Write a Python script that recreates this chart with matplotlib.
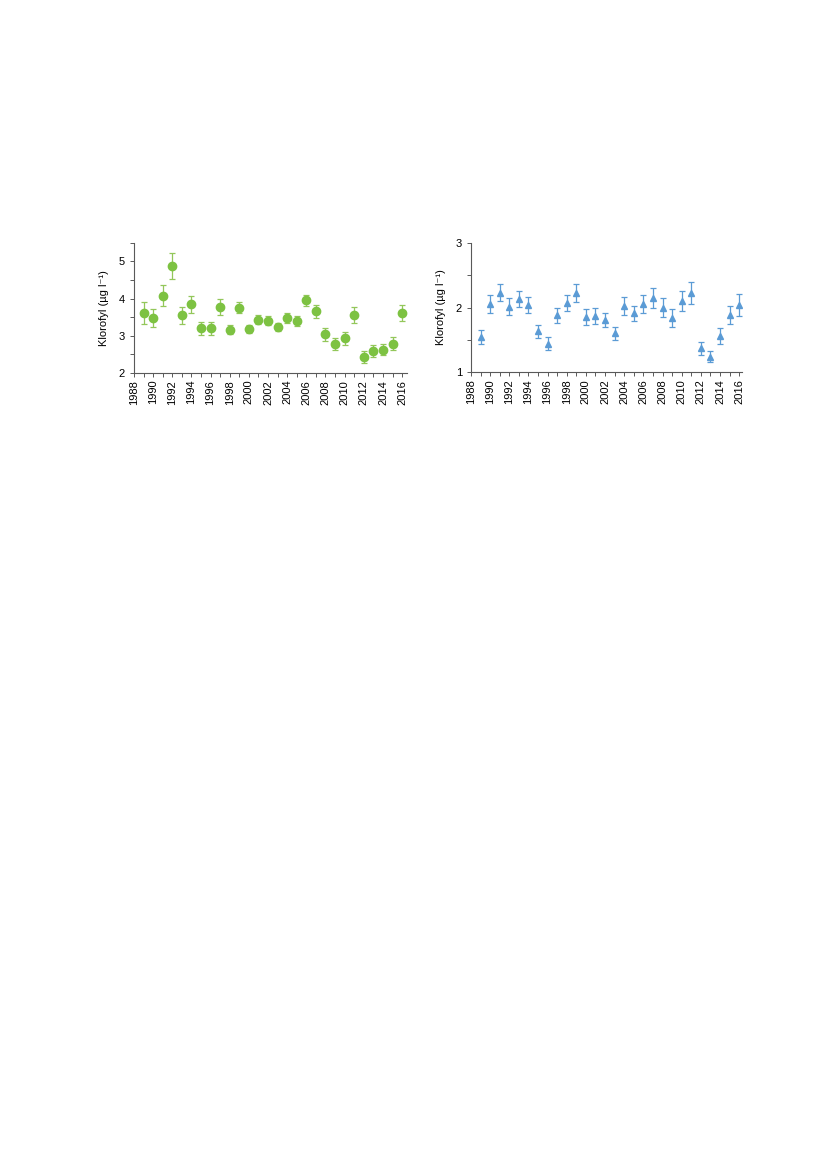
import matplotlib
matplotlib.use('Agg')
import matplotlib.pyplot as plt
from matplotlib.ticker import MultipleLocator

plt.rcParams['font.family'] = ['Liberation Sans', 'DejaVu Sans']

years = list(range(1989, 2017))

# left panel: green circles
green_mean = [3.62, 3.48, 4.08, 4.88, 3.55, 3.85, 3.20, 3.20, 3.78, 3.16,
              3.76, 3.18, 3.43, 3.40, 3.24, 3.48, 3.39, 3.95, 3.66, 3.04,
              2.78, 2.93, 3.56, 2.44, 2.60, 2.63, 2.79, 3.61]
green_err = [0.30, 0.25, 0.29, 0.34, 0.22, 0.23, 0.18, 0.18, 0.21, 0.12,
             0.14, 0.10, 0.12, 0.12, 0.11, 0.13, 0.13, 0.16, 0.18, 0.17,
             0.15, 0.17, 0.21, 0.16, 0.16, 0.16, 0.17, 0.21]

# right panel: blue triangles
blue_mean = [1.54, 2.06, 2.23, 2.01, 2.13, 2.04, 1.63, 1.44, 1.88, 2.07,
             2.22, 1.85, 1.87, 1.80, 1.60, 2.02, 1.91, 2.06, 2.15, 2.00,
             1.84, 2.10, 2.22, 1.37, 1.24, 1.56, 1.89, 2.04]
blue_err = [0.11, 0.14, 0.13, 0.13, 0.12, 0.12, 0.10, 0.10, 0.12, 0.13,
            0.14, 0.12, 0.12, 0.11, 0.10, 0.14, 0.12, 0.14, 0.16, 0.14,
            0.14, 0.16, 0.17, 0.10, 0.09, 0.12, 0.14, 0.17]

xlabels = list(range(1988, 2017, 2))

fig = plt.figure(figsize=(8.27, 11.69), dpi=100)

ax1 = fig.add_axes([0.162, 0.681, 0.330, 0.1112])
ax2 = fig.add_axes([0.5695, 0.6818, 0.3277, 0.1103])


def style(ax, ylo, yhi, xhi):
    ax.set_xlim(1988, xhi)
    ax.set_ylim(ylo, yhi)
    for s in ['top', 'right']:
        ax.spines[s].set_visible(False)
    for s in ['left', 'bottom']:
        ax.spines[s].set_color('#595959')
        ax.spines[s].set_linewidth(0.8)
    ax.set_xticks(xlabels)
    ax.set_xticklabels([str(y) for y in xlabels], rotation=90, fontsize=8)
    ax.xaxis.set_minor_locator(MultipleLocator(1))
    ax.yaxis.set_major_locator(MultipleLocator(1))
    ax.yaxis.set_minor_locator(MultipleLocator(0.5))
    ax.tick_params(axis='both', which='both', direction='out', colors='#595959',
                   labelcolor='black', width=0.7)
    ax.tick_params(which='major', length=3)
    ax.tick_params(which='minor', length=3)
    ax.tick_params(axis='y', labelsize=8)
    ax.tick_params(axis='x', pad=2)
    ax.set_ylabel('Klorofyl (µg l⁻¹)', fontsize=8, labelpad=7)


ax1.errorbar(years, green_mean, yerr=green_err, fmt='o', color='#7DC242',
             mec='#7DC242', ecolor='#93C75A', elinewidth=0.9, capsize=2.5,
             capthick=0.9, markersize=6)
style(ax1, 2, 5.5, 2016.5)

ax2.errorbar(years, blue_mean, yerr=blue_err, fmt='^', color='#5B9BD5',
             mec='#5B9BD5', ecolor='#5B9BD5', elinewidth=0.9, capsize=2.5,
             capthick=0.9, markersize=4.5)
style(ax2, 1, 3, 2016.3)

fig.savefig('out.png', dpi=100)
